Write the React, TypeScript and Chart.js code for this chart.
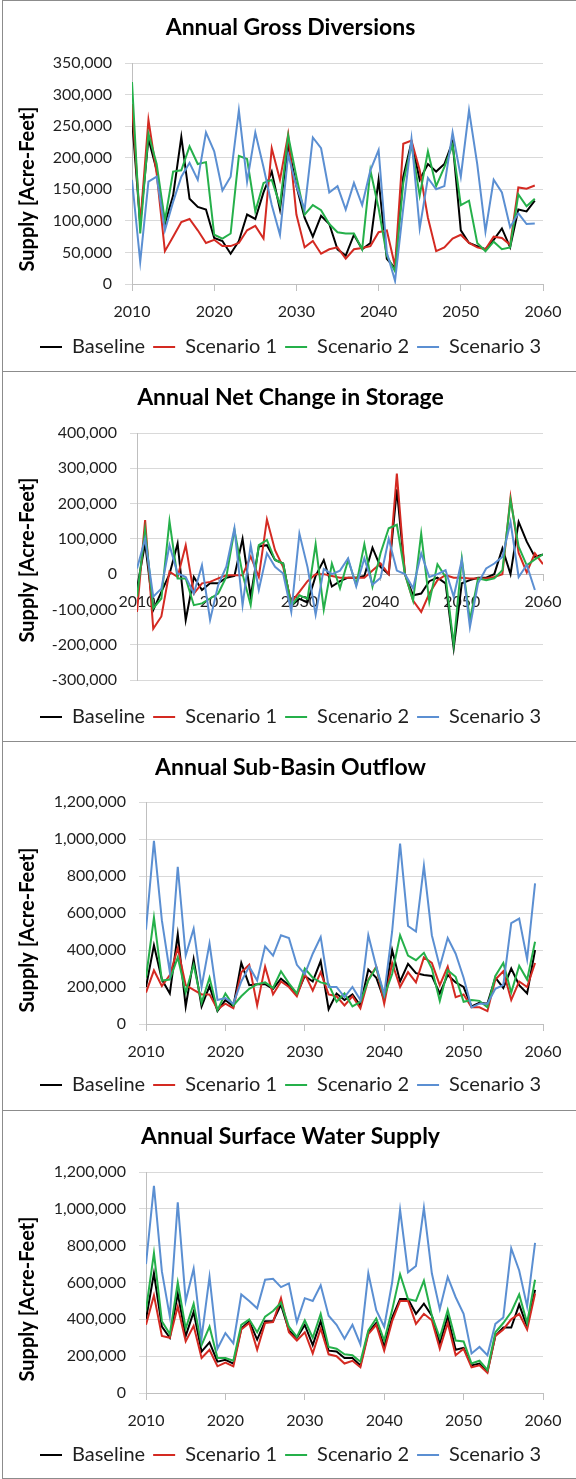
import React, { useEffect, useRef } from 'react';
import { Chart, registerables } from 'chart.js';

Chart.register(...registerables);

// ---------- data ----------
const YEARS = [
  2010, 2011, 2012, 2013, 2014, 2015, 2016, 2017, 2018, 2019,
  2020, 2021, 2022, 2023, 2024, 2025, 2026, 2027, 2028, 2029,
  2030, 2031, 2032, 2033, 2034, 2035, 2036, 2037, 2038, 2039,
  2040, 2041, 2042, 2043, 2044, 2045, 2046, 2047, 2048, 2049,
  2050, 2051, 2052, 2053, 2054, 2055, 2056, 2057, 2058, 2059,
  2060,
];
const X_TICKS = [2010, 2020, 2030, 2040, 2050, 2060];
const SERIES_NAMES = ['Baseline', 'Scenario 1', 'Scenario 2', 'Scenario 3'];
const Y_TITLE = 'Supply [Acre-Feet]';

// Annual Gross Diversions
const grossTicks = [0, 50000, 100000, 150000, 200000, 250000, 300000, 350000];
const grossBaseline = [
  262000, 95000, 230000, 180000, 95000, 140000, 233000, 135000, 122000, 118000,
  73000, 68000, 48000, 68000, 110000, 103000, 145000, 178000, 118000, 220000,
  155000, 105000, 75000, 108000, 95000, 55000, 45000, 78000, 55000, 65000,
  165000, 40000, 25000, 170000, 225000, 165000, 190000, 178000, 190000, 225000,
  85000, 65000, 60000, 55000, 70000, 88000, 58000, 118000, 115000, 132000,
];
const grossScen1 = [
  285000, 95000, 260000, 175000, 52000, 75000, 98000, 103000, 85000, 65000,
  70000, 60000, 60000, 65000, 85000, 92000, 72000, 215000, 165000, 237000,
  110000, 58000, 68000, 48000, 55000, 58000, 40000, 55000, 57000, 60000,
  82000, 85000, 28000, 222000, 227000, 180000, 105000, 52000, 58000, 72000,
  78000, 65000, 58000, 55000, 75000, 73000, 62000, 153000, 151000, 156000,
];
const grossScen2 = [
  320000, 80000, 238000, 190000, 100000, 178000, 180000, 218000, 190000, 193000,
  78000, 72000, 80000, 203000, 198000, 115000, 160000, 165000, 125000, 235000,
  170000, 110000, 125000, 117000, 95000, 82000, 80000, 80000, 55000, 180000,
  120000, 45000, 20000, 160000, 220000, 140000, 210000, 155000, 185000, 220000,
  125000, 132000, 65000, 52000, 67000, 55000, 58000, 142000, 123000, 135000,
];
const grossScen3 = [
  165000, 35000, 162000, 170000, 85000, 130000, 170000, 192000, 165000, 240000,
  210000, 148000, 170000, 275000, 162000, 240000, 185000, 125000, 78000, 205000,
  155000, 118000, 232000, 215000, 145000, 155000, 118000, 160000, 125000, 180000,
  212000, 50000, 5000, 120000, 230000, 88000, 168000, 150000, 155000, 240000,
  170000, 275000, 190000, 83000, 165000, 145000, 90000, 112000, 95000, 96000,
];

// Annual Net Change in Storage (2010-2060; Scenario 3 ends 2059)
const storageTicks = [-300000, -200000, -100000, 0, 100000, 200000, 300000, 400000];
const storageBaseline = [
  -40000, 87000, -102000, -50000, 0, 87000, -130000, -8000, -45000, -26000,
  -26000, -10000, -5000, 100000, -64000, 78000, 82000, 40000, 30000, -90000,
  -70000, -80000, -5000, 40000, -35000, -20000, -10000, -10000, -5000, 75000,
  20000, 0, 240000, 0, -60000, -55000, -20000, -10000, -26000, -210000,
  -26000, -17000, -10000, -10000, 0, 73000, 0, 148000, 92000, 49000,
  56000,
];
const storageScen1 = [
  -107000, 153000, -155000, -120000, 7000, -8000, 82000, -55000, -26000, -22000,
  -12000, -3000, -3000, -3000, 50000, -8000, 155000, 68000, 20000, -80000,
  -50000, -20000, 0, 0, -5000, -10000, -10000, -10000, -10000, 10000,
  30000, 0, 285000, 0, -75000, -107000, -55000, -17000, -3000, -10000,
  -10000, -12000, -12000, -12000, -8000, 0, 218000, 60000, 5000, 59000,
  28000,
];
const storageScen2 = [
  -64000, 125000, -97000, -69000, 150000, -12000, -12000, -88000, -83000, -69000,
  -55000, -8000, 125000, 0, -88000, 82000, 97000, 40000, 30000, -90000,
  -60000, -70000, 85000, -100000, 30000, -40000, 40000, -30000, 85000, -35000,
  60000, 130000, 140000, 0, -75000, 115000, -79000, 28000, -8000, -200000,
  44000, -130000, -12000, -17000, -12000, 11000, 210000, 78000, 25000, 42000,
  56000,
];
const storageScen3 = [
  16000, 100000, -64000, -41000, 82000, 2000, -8000, -55000, 25000, -130000,
  -31000, 21000, 130000, -88000, 82000, -45000, 59000, 21000, 2000, -107000,
  115000, 20000, -115000, 15000, 0, 10000, 45000, -35000, 45000, -30000,
  -10000, 100000, 10000, 0, -40000, 59000, -8000, 0, 11000, -64000,
  40000, -150000, -26000, 16000, 30000, 49000, 148000, -8000, 26000, -45000,
];

// Annual Sub-Basin Outflow
const outflowTicks = [0, 200000, 400000, 600000, 800000, 1000000, 1200000];
const outflowBaseline = [
  200000, 425000, 240000, 165000, 485000, 95000, 350000, 95000, 205000, 70000,
  130000, 95000, 330000, 210000, 215000, 215000, 190000, 245000, 210000, 160000,
  260000, 230000, 340000, 80000, 165000, 130000, 160000, 100000, 295000, 250000,
  130000, 400000, 230000, 325000, 275000, 265000, 260000, 165000, 265000, 225000,
  200000, 95000, 115000, 110000, 250000, 195000, 300000, 210000, 165000, 400000,
];
const outflowScen1 = [
  170000, 290000, 205000, 265000, 410000, 210000, 185000, 160000, 160000, 80000,
  110000, 85000, 280000, 320000, 100000, 310000, 160000, 230000, 200000, 150000,
  270000, 180000, 280000, 160000, 150000, 100000, 150000, 85000, 240000, 310000,
  110000, 330000, 200000, 280000, 225000, 360000, 330000, 210000, 310000, 145000,
  160000, 90000, 90000, 70000, 240000, 285000, 130000, 230000, 200000, 330000,
];
const outflowScen2 = [
  250000, 575000, 235000, 240000, 360000, 170000, 320000, 115000, 250000, 75000,
  165000, 100000, 150000, 190000, 215000, 225000, 195000, 285000, 220000, 165000,
  300000, 250000, 225000, 215000, 120000, 165000, 95000, 120000, 235000, 305000,
  150000, 270000, 480000, 370000, 345000, 385000, 300000, 125000, 290000, 255000,
  120000, 130000, 125000, 90000, 260000, 330000, 170000, 315000, 240000, 445000,
];
const outflowScen3 = [
  510000, 990000, 560000, 280000, 850000, 370000, 515000, 200000, 435000, 130000,
  140000, 110000, 230000, 310000, 235000, 420000, 370000, 480000, 465000, 320000,
  270000, 380000, 470000, 200000, 200000, 145000, 200000, 130000, 480000, 310000,
  160000, 500000, 975000, 530000, 500000, 855000, 480000, 310000, 465000, 380000,
  250000, 90000, 110000, 110000, 190000, 210000, 545000, 570000, 350000, 760000,
];

// Annual Surface Water Supply
const surfaceTicks = [0, 200000, 400000, 600000, 800000, 1000000, 1200000];
const surfaceBaseline = [
  400000, 650000, 360000, 300000, 540000, 310000, 440000, 225000, 275000, 170000,
  180000, 160000, 350000, 390000, 290000, 390000, 390000, 480000, 340000, 300000,
  370000, 260000, 390000, 230000, 225000, 190000, 190000, 150000, 330000, 380000,
  255000, 410000, 510000, 510000, 430000, 485000, 420000, 270000, 415000, 235000,
  245000, 150000, 160000, 115000, 310000, 355000, 355000, 480000, 360000, 560000,
];
const surfaceScen1 = [
  370000, 530000, 310000, 300000, 470000, 280000, 365000, 190000, 235000, 145000,
  165000, 145000, 345000, 380000, 235000, 380000, 385000, 515000, 330000, 285000,
  330000, 215000, 350000, 210000, 200000, 160000, 175000, 140000, 320000, 370000,
  230000, 390000, 500000, 500000, 375000, 430000, 395000, 240000, 380000, 205000,
  240000, 140000, 150000, 110000, 310000, 345000, 400000, 430000, 345000, 540000,
];
const surfaceScen2 = [
  450000, 760000, 390000, 320000, 600000, 350000, 485000, 260000, 360000, 190000,
  190000, 175000, 370000, 400000, 330000, 415000, 445000, 490000, 360000, 305000,
  395000, 300000, 430000, 250000, 240000, 210000, 205000, 170000, 340000, 405000,
  285000, 450000, 645000, 510000, 500000, 610000, 420000, 300000, 450000, 285000,
  280000, 160000, 175000, 125000, 330000, 380000, 440000, 535000, 380000, 615000,
];
const surfaceScen3 = [
  700000, 1125000, 660000, 415000, 1035000, 500000, 675000, 300000, 630000, 240000,
  325000, 270000, 535000, 500000, 460000, 615000, 620000, 575000, 595000, 385000,
  515000, 500000, 585000, 420000, 370000, 295000, 370000, 265000, 650000, 450000,
  360000, 600000, 995000, 655000, 690000, 1005000, 650000, 455000, 630000, 520000,
  430000, 215000, 250000, 205000, 375000, 410000, 785000, 665000, 470000, 815000,
];

// ---------- styling / layout ----------
const FONT = 'Lato, "Open Sans", "DejaVu Sans", sans-serif';
const COLORS = ['#000000', '#D42A22', '#25B04A', '#5B8FD2'];
const PAGE_W = 576;
const PLOT_RIGHT = 543;
const PAD_LEFT = 5;
const LEG_FONT = 20;
const LEG_PAD = 8;
const TITLE_FONT = 23;
const TITLE_LH = TITLE_FONT * 1.2;
const YTITLE_FONT = 20;
const YTITLE_X = 27.5;
const YTITLE_Y = 189;
const TEXT_COLOR = '#1f1f1f';

type PanelCfg = {
  title: string;
  top: number;
  height: number;
  left: number;
  chartTop: number;
  chartBottom: number;
  titleCenter: number;
  legendCenter: number;
  ticks: number[];
  series: number[][];
  last?: boolean;
};

const PANELS: PanelCfg[] = [
  {
    title: 'Annual Gross Diversions', top: 0, height: 371, left: 132,
    chartTop: 63, chartBottom: 284, titleCenter: 28, legendCenter: 347,
    ticks: grossTicks, series: [grossBaseline, grossScen1, grossScen2, grossScen3],
  },
  {
    title: 'Annual Net Change in Storage', top: 371, height: 370, left: 137,
    chartTop: 62, chartBottom: 309, titleCenter: 27, legendCenter: 346,
    ticks: storageTicks, series: [storageBaseline, storageScen1, storageScen2, storageScen3],
  },
  {
    title: 'Annual Sub-Basin Outflow', top: 741, height: 369, left: 146,
    chartTop: 61, chartBottom: 283, titleCenter: 27, legendCenter: 344,
    ticks: outflowTicks, series: [outflowBaseline, outflowScen1, outflowScen2, outflowScen3],
  },
  {
    title: 'Annual Surface Water Supply', top: 1110, height: 369, left: 146,
    chartTop: 62, chartBottom: 283, titleCenter: 27, legendCenter: 345,
    ticks: surfaceTicks, series: [surfaceBaseline, surfaceScen1, surfaceScen2, surfaceScen3],
    last: true,
  },
];

// Vertical axis title, placed where the original places it
const yTitlePlugin = {
  id: 'yTitle',
  afterDraw(chart: any) {
    const ctx = chart.ctx;
    ctx.save();
    ctx.translate(YTITLE_X, YTITLE_Y);
    ctx.rotate(-Math.PI / 2);
    ctx.textAlign = 'center';
    ctx.textBaseline = 'middle';
    ctx.fillStyle = '#000';
    ctx.font = `bold ${YTITLE_FONT}px ${FONT}`;
    ctx.fillText(Y_TITLE, 0, 0);
    ctx.restore();
  },
};

function Panel({ cfg }: { cfg: PanelCfg }) {
  const ref = useRef<HTMLCanvasElement | null>(null);

  useEffect(() => {
    if (!ref.current) return;
    const H = cfg.height;
    const legendTop = cfg.legendCenter - LEG_PAD - LEG_FONT / 2;
    const legendHeight = LEG_FONT + LEG_PAD + 10;
    const padBottom = H - legendTop - legendHeight;
    const titlePadTop = cfg.titleCenter - TITLE_LH / 2;
    const titlePadBottom = cfg.chartTop - titlePadTop - TITLE_LH;
    const yMin = cfg.ticks[0];
    const yMax = cfg.ticks[cfg.ticks.length - 1];

    const chart = new Chart(ref.current, {
      type: 'line',
      data: {
        datasets: cfg.series.map((vals, i) => ({
          label: SERIES_NAMES[i],
          data: vals.map((v, j) => ({ x: YEARS[j], y: v })),
          borderColor: COLORS[i],
          backgroundColor: COLORS[i],
          borderWidth: 2,
          pointRadius: 0,
          pointHoverRadius: 0,
          pointStyle: 'line',
          tension: 0,
          fill: false,
          order: 3 - i,
          xAxisID: 'x',
          yAxisID: 'y',
        })),
      },
      options: {
        animation: false,
        responsive: false,
        maintainAspectRatio: false,
        events: [],
        layout: { padding: { left: PAD_LEFT, right: 0, top: 0, bottom: padBottom } },
        plugins: {
          title: {
            display: true,
            text: cfg.title,
            color: '#000',
            font: { family: FONT, size: TITLE_FONT, weight: 'bold', lineHeight: 1.2 },
            padding: { top: titlePadTop, bottom: titlePadBottom },
          },
          legend: {
            display: true,
            position: 'bottom',
            labels: {
              usePointStyle: true,
              pointStyle: 'line',
              pointStyleWidth: 22,
              padding: LEG_PAD,
              color: TEXT_COLOR,
              font: { family: FONT, size: LEG_FONT },
              sort: (a: any, b: any) => a.datasetIndex - b.datasetIndex,
            },
          },
          tooltip: { enabled: false },
        },
        scales: {
          x: {
            type: 'linear',
            min: 2010,
            max: 2060,
            position: { y: 0 } as any,
            afterBuildTicks: (s: any) => {
              s.ticks = X_TICKS.map((v) => ({ value: v }));
            },
            ticks: {
              autoSkip: false,
              maxRotation: 0,
              padding: 12,
              color: TEXT_COLOR,
              font: { family: FONT, size: 16 },
              callback: (v: any) => String(v),
            },
            grid: { drawOnChartArea: false, drawTicks: true, tickLength: 6, color: '#bfbfbf', lineWidth: 1 },
            border: { display: true, color: '#bfbfbf', width: 1 },
          },
          y: {
            type: 'linear',
            position: 'left',
            min: yMin,
            max: yMax,
            afterBuildTicks: (s: any) => {
              s.ticks = cfg.ticks.map((v) => ({ value: v }));
            },
            afterFit: (s: any) => {
              s.width = cfg.left - PAD_LEFT;
            },
            ticks: {
              padding: 13,
              color: TEXT_COLOR,
              font: { family: FONT, size: 16 },
              callback: (v: any) => Number(v).toLocaleString('en-US'),
            },
            grid: { color: '#d9d9d9', lineWidth: 1, tickLength: 7, drawTicks: true },
            border: { display: true, color: '#bfbfbf', width: 1 },
            title: { display: false },
          },
          rpad: {
            type: 'linear',
            axis: 'y',
            position: 'right',
            display: true,
            grid: { display: false, drawTicks: false },
            border: { display: false },
            ticks: { display: false },
            afterFit: (s: any) => {
              s.width = PAGE_W - PLOT_RIGHT;
            },
          },
          bpad: {
            type: 'linear',
            axis: 'x',
            position: 'bottom',
            display: true,
            grid: { display: false, drawTicks: false },
            border: { display: false },
            ticks: { display: false },
            afterFit: (s: any) => {
              s.height = legendTop - cfg.chartBottom;
            },
          },
        } as any,
      } as any,
      plugins: [yTitlePlugin as any],
    });
    return () => chart.destroy();
  }, [cfg]);

  return (
    <div
      style={{
        position: 'absolute',
        left: 0,
        top: cfg.top,
        width: PAGE_W,
        height: cfg.height,
      }}
    >
      <div
        style={{
          position: 'absolute',
          left: 2,
          top: 0,
          width: 600,
          height: cfg.height + (cfg.last ? 0 : 1),
          boxSizing: 'border-box',
          borderTop: '1px solid #8c8c8c',
          borderLeft: '1px solid #8c8c8c',
          borderBottom: cfg.last ? '1px solid #8c8c8c' : 'none',
        }}
      />
      <canvas
        ref={ref}
        width={PAGE_W}
        height={cfg.height}
        style={{ position: 'absolute', left: 0, top: 0, width: PAGE_W, height: cfg.height }}
      />
    </div>
  );
}

export default function App() {
  return (
    <div
      style={{
        position: 'absolute',
        left: 0,
        top: 0,
        width: PAGE_W,
        height: 1479,
        overflow: 'hidden',
        background: '#ffffff',
      }}
    >
      {PANELS.map((p) => (
        <Panel key={p.title} cfg={p} />
      ))}
    </div>
  );
}
